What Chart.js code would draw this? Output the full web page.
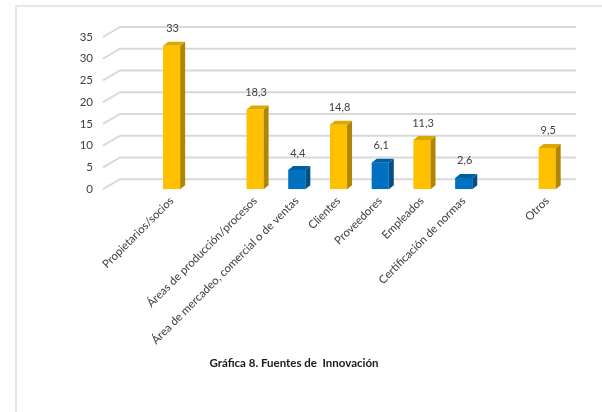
<!DOCTYPE html>
<html>
<head>
<meta charset="utf-8">
<script src="https://cdn.jsdelivr.net/npm/chart.js@4.4.1/dist/chart.umd.min.js"></script>
<style>
    html, body { margin: 0; padding: 0; background: #fff; }
    #wrap { position: relative; width: 602px; height: 412px; }
    #frame { position: absolute; left: 15px; top: 5px; right: 0; bottom: 0; border-left: 2px solid #e6e6e6; border-top: 2px solid #e6e6e6; }
    canvas { position: absolute; left: 0; top: 0; }
</style>
</head>
<body>
<div id="wrap">
    <div id="frame"></div>
    <canvas id="chart" width="602" height="412"></canvas>
</div>
<script>
// --- data (empty slots keep the spacing of the original chart) ---
const categories = ['', 'Propietarios/socios', '', 'Áreas de producción/procesos',
    'Área de mercadeo, comercial o de ventas', 'Clientes', 'Proveedores',
    'Empleados', 'Certificación de normas', '', 'Otros'];
const yellowValues = [null, 33, null, 18.3, null, 14.8, null, 11.3, null, null, 9.5];
const blueValues = [null, null, null, null, 4.4, null, 6.1, null, 2.6, null, null];
const yTicks = [0, 5, 10, 15, 20, 25, 30, 35];
const chartTitle = 'Gráfica 8. Fuentes de  Innovación';

const FONT = 'Lato, "Open Sans", sans-serif';

// back-wall gridlines with the little slanted floor edge on the left
const wallGrid = {
    id: 'wallGrid',
    beforeDatasetsDraw(chart) {
        const { ctx, chartArea } = chart;
        const y = chart.scales.y;
        ctx.save();
        ctx.strokeStyle = '#d9d9d9';
        ctx.lineWidth = 2;
        yTicks.forEach(v => {
            const py = y.getPixelForValue(v);
            ctx.beginPath();
            ctx.moveTo(chartArea.left - 6, py);
            ctx.lineTo(chartArea.left + 11, py - 10);
            ctx.lineTo(chartArea.right + 8, py - 10);
            ctx.stroke();
        });
        ctx.restore();
    }
};

// fake 3D: side + top faces, then value labels
const bars3d = {
    id: 'bars3d',
    afterDatasetsDraw(chart) {
        const ctx = chart.ctx;
        const d = 5, dy = 4;
        const shades = [
            { side: '#b08600', top: '#dba800' },
            { side: '#004f88', top: '#005ea2' }
        ];
        ctx.save();
        chart.data.datasets.forEach((ds, i) => {
            const meta = chart.getDatasetMeta(i);
            meta.data.forEach((bar, j) => {
                const v = ds.data[j];
                if (v === null) return;
                const l = bar.x - bar.width / 2, r = bar.x + bar.width / 2;
                ctx.fillStyle = shades[i].side;
                ctx.beginPath();
                ctx.moveTo(r, bar.y);
                ctx.lineTo(r + d, bar.y - dy);
                ctx.lineTo(r + d, bar.base - dy);
                ctx.lineTo(r, bar.base);
                ctx.closePath();
                ctx.fill();
                ctx.fillStyle = shades[i].top;
                ctx.beginPath();
                ctx.moveTo(l, bar.y);
                ctx.lineTo(l + d, bar.y - dy);
                ctx.lineTo(r + d, bar.y - dy);
                ctx.lineTo(r, bar.y);
                ctx.closePath();
                ctx.fill();

                ctx.fillStyle = '#404040';
                ctx.font = '11px ' + FONT;
                ctx.textAlign = 'center';
                ctx.textBaseline = 'middle';
                ctx.fillText(String(v).replace('.', ','), bar.x + 1, bar.y - 17);
            });
        });
        ctx.restore();
    }
};

new Chart(document.getElementById('chart'), {
    type: 'bar',
    data: {
        labels: categories,
        datasets: [
            { data: yellowValues, backgroundColor: '#ffc000', barPercentage: 0.41, categoryPercentage: 1, grouped: false },
            { data: blueValues, backgroundColor: '#0070c0', barPercentage: 0.41, categoryPercentage: 1, grouped: false }
        ]
    },
    options: {
        responsive: false,
        animation: false,
        layout: { padding: { top: 37, right: 34, left: 20, bottom: 0 } },
        plugins: {
            legend: { display: false },
            tooltip: { enabled: false },
            title: {
                display: true,
                text: chartTitle,
                position: 'bottom',
                color: '#1a1a1a',
                font: { family: FONT, size: 11.5, weight: 'bold' },
                padding: { top: 0, bottom: 42 }
            }
        },
        scales: {
            y: {
                min: 0, max: 35,
                grid: { display: false, drawTicks: false },
                border: { display: false },
                afterBuildTicks: s => { s.ticks = yTicks.map(v => ({ value: v })); },
                afterFit: s => { s.width = 89; },
                ticks: { padding: 16, color: '#404040', font: { family: FONT, size: 11.5 } }
            },
            x: {
                grid: { display: false, drawTicks: false },
                border: { display: false },
                afterFit: s => { s.height = 167; },
                ticks: {
                    autoSkip: false, minRotation: 45, maxRotation: 45, padding: 5,
                    color: '#404040', font: { family: FONT, size: 11.3 }
                }
            }
        }
    },
    plugins: [wallGrid, bars3d]
});
</script>
</body>
</html>
